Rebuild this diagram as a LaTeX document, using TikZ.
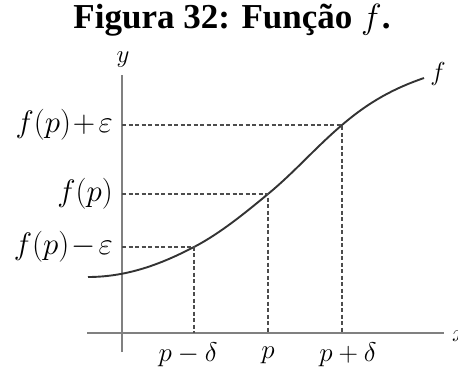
\RequirePackage{fix-cm}
\documentclass[tikz,border=0pt]{standalone}
\usepackage{fontspec}
\setmainfont{Liberation Serif}
\begin{document}
\begin{tikzpicture}[x=1pt,y=-1pt,
  axis/.style={draw=black!50, line width=1.3pt},
  guide/.style={draw=black!70, dash pattern=on 4pt off 2.5pt, line width=1.6pt},
  curve/.style={draw=black!80, line width=1.9pt},
  lab/.style={font=\fontsize{27}{30}\selectfont, inner sep=0pt},
  llab/.style={font=\fontsize{31}{36}\selectfont, inner sep=0pt, anchor=east}]
\useasboundingbox (0,0) rectangle (458,367);
\node[font=\fontsize{35}{38}\selectfont\bfseries, inner sep=0pt, anchor=base] (title) at (232,28) {Figura 32: Função $f$.};
% axes
\coordinate (yb) at (122,352);
\coordinate (yt) at (122,75);
\coordinate (xl) at (87,333);
\coordinate (xr) at (444,333);
\draw[axis] (yb) -- (yt);
\draw[axis] (xl) -- (xr);
\node[font=\fontsize{25}{28}\selectfont, inner sep=0pt] (ylab) at (123,60) {$y$};
\node[font=\fontsize{25}{28}\selectfont, inner sep=0pt, anchor=west] (xlab) at (452,336) {$x$};
% curve points
\coordinate (S) at (88,277);
\coordinate (A) at (194,247);
\coordinate (P) at (268,194);
\coordinate (B) at (342,125);
\coordinate (E) at (424,78);
\draw[curve] (S) .. controls (130,277) and (165,262) .. (A)
  .. controls (220,233.5) and (245,213) .. (P)
  .. controls (295,171.7) and (315,148) .. (B)
  .. controls (370,101) and (395,88) .. (E);
\node[font=\fontsize{26}{28}\selectfont, inner sep=0pt] (flab) at (438,74) {$f$};
% dashed guides
\coordinate (yA) at (122,247);
\coordinate (yP) at (122,194);
\coordinate (yB) at (122,125);
\coordinate (xA) at (194,333);
\coordinate (xP) at (268,333);
\coordinate (xB) at (342,333);
\draw[guide] (yB) -- (B) -- (xB);
\draw[guide] (yP) -- (P) -- (xP);
\draw[guide] (yA) -- (A) -- (xA);
% labels
\node[llab] (lB) at (113,125) {$f(p)\mkern1mu{+}\mkern2mu\varepsilon$};
\node[llab] (lP) at (113,194) {$f(p)$};
\node[llab] (lA) at (113,247) {$f(p)\mkern1mu{-}\mkern2mu\varepsilon$};
\node[lab] (tA) at (188,355) {$p-\delta$};
\node[lab] (tP) at (268,355) {$p$};
\node[lab] (tB) at (348,355) {$p+\delta$};
\end{tikzpicture}
\end{document}
